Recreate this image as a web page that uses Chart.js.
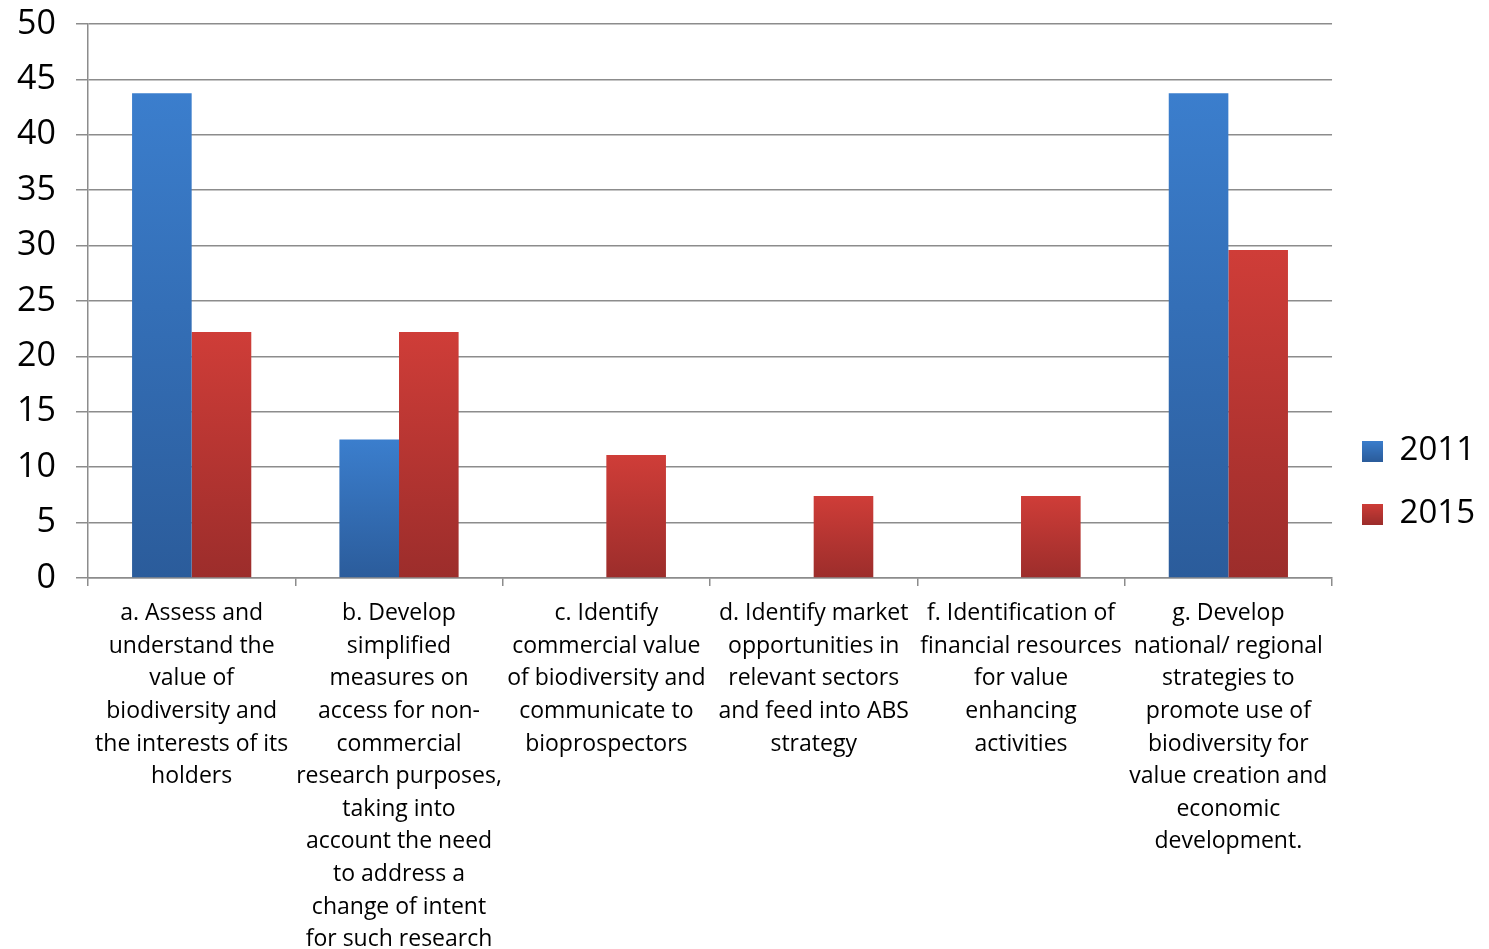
<!DOCTYPE html>
<html>
<head>
<meta charset="utf-8">
<script src="https://cdn.jsdelivr.net/npm/chart.js@4/dist/chart.umd.min.js"></script>
<style>
html,body{margin:0;padding:0;background:#fff;}
#wrap{width:1489px;height:949px;position:relative;overflow:hidden;}
</style>
</head>
<body>
<div id="wrap"><canvas id="c" width="1489" height="949"></canvas></div>
<script>
const categories = [
  ["a. Assess and","understand the","value of","biodiversity and","the interests of its","holders"],
  ["b. Develop","simplified","measures on","access for non-","commercial","research purposes,","taking into","account the need","to address a","change of intent","for such research"],
  ["c. Identify","commercial value","of biodiversity and","communicate to","bioprospectors"],
  ["d. Identify market","opportunities in","relevant sectors","and feed into ABS","strategy"],
  ["f. Identification of","financial resources","for value","enhancing","activities"],
  ["g. Develop","national/ regional","strategies to","promote use of","biodiversity for","value creation and","economic","development."]
];
const seriesNames = ["2011","2015"];
const values2011 = [43.75, 12.5, 0, 0, 0, 43.75];
const values2015 = [22.2, 22.2, 11.1, 7.4, 7.4, 29.6];
const yTicks = [0,5,10,15,20,25,30,35,40,45,50];

const gradTop = {"2011":"#3b7ecd","2015":"#cf3d38"};
const gradBot = {"2011":"#2b5c9b","2015":"#9c2d2b"};

function barGradient(name){
  return function(ctx){
    const chart = ctx.chart;
    const ys = chart.scales && chart.scales.y;
    if(!ys || ctx.type !== 'data'){ return gradTop[name]; }
    const v = ctx.parsed ? ctx.parsed.y : ctx.raw;
    const top = ys.getPixelForValue(v);
    const bot = ys.getPixelForValue(0);
    if(!isFinite(top) || !isFinite(bot) || bot - top < 1){ return gradTop[name]; }
    const g = chart.ctx.createLinearGradient(0, top, 0, bot);
    g.addColorStop(0, gradTop[name]);
    g.addColorStop(1, gradBot[name]);
    return g;
  };
}
function legendSwatch(name){
  const c = document.createElement('canvas');
  c.width = 21; c.height = 21;
  const x = c.getContext('2d');
  const g = x.createLinearGradient(0,0,0,21);
  g.addColorStop(0, gradTop[name]); g.addColorStop(1, gradBot[name]);
  x.fillStyle = g; x.fillRect(0,0,21,21);
  return c;
}

const FONT = "'Open Sans', 'DejaVu Sans', sans-serif";

new Chart(document.getElementById('c'), {
  type: 'bar',
  data: {
    labels: categories,
    datasets: [
      {label: seriesNames[0], data: values2011, backgroundColor: barGradient("2011"), borderWidth: 0, barPercentage: 1.0, categoryPercentage: 0.575},
      {label: seriesNames[1], data: values2015, backgroundColor: barGradient("2015"), borderWidth: 0, barPercentage: 1.0, categoryPercentage: 0.575}
    ]
  },
  options: {
    responsive: false,
    animation: false,
    layout: {padding: {top: 0, right: 4, left: 0, bottom: 0}},
    plugins: {
      tooltip: {enabled: false},
      legend: {
        position: 'right',
        title: {display: true, text: ' ', font: {family: FONT, size: 10, lineHeight: 1.2}, padding: {top: 2, bottom: 2}},
        labels: {
          font: {family: FONT, size: 33},
          color: '#000',
          boxWidth: 21, boxHeight: 21,
          padding: 30,
          usePointStyle: true,
          generateLabels: function(chart){
            return chart.data.datasets.map((ds,i)=>({
              text: ds.label,
              pointStyle: legendSwatch(ds.label),
              fillStyle: gradTop[ds.label],
              strokeStyle: 'transparent',
              lineWidth: 0,
              datasetIndex: i,
              hidden: false,
              fontColor: '#000'
            }));
          }
        }
      }
    },
    scales: {
      x: {
        offset: true,
        grid: {display: true, drawOnChartArea: false, drawTicks: true, tickLength: 8, color: '#8c8c8c', lineWidth: 1.5, offset: true},
        border: {display: true, color: '#8c8c8c', width: 1.5},
        ticks: {font: {family: FONT, size: 23, lineHeight: 1.42}, color: '#000', maxRotation: 0, minRotation: 0, autoSkip: false, padding: 11},
        afterFit: function(scale){ scale.height = 371; }
      },
      y: {
        min: 0, max: 50,
        afterBuildTicks: function(scale){ scale.ticks = yTicks.map(v=>({value:v})); },
        grid: {color: '#8c8c8c', lineWidth: 1.5, tickLength: 12, drawTicks: true},
        border: {display: true, color: '#8c8c8c', width: 1.5},
        ticks: {font: {family: FONT, size: 34}, color: '#000', padding: 20},
        afterFit: function(scale){ scale.width = 88; scale.paddingTop = 24; scale.paddingBottom = 0; }
      }
    }
  }
});
</script>
</body>
</html>
